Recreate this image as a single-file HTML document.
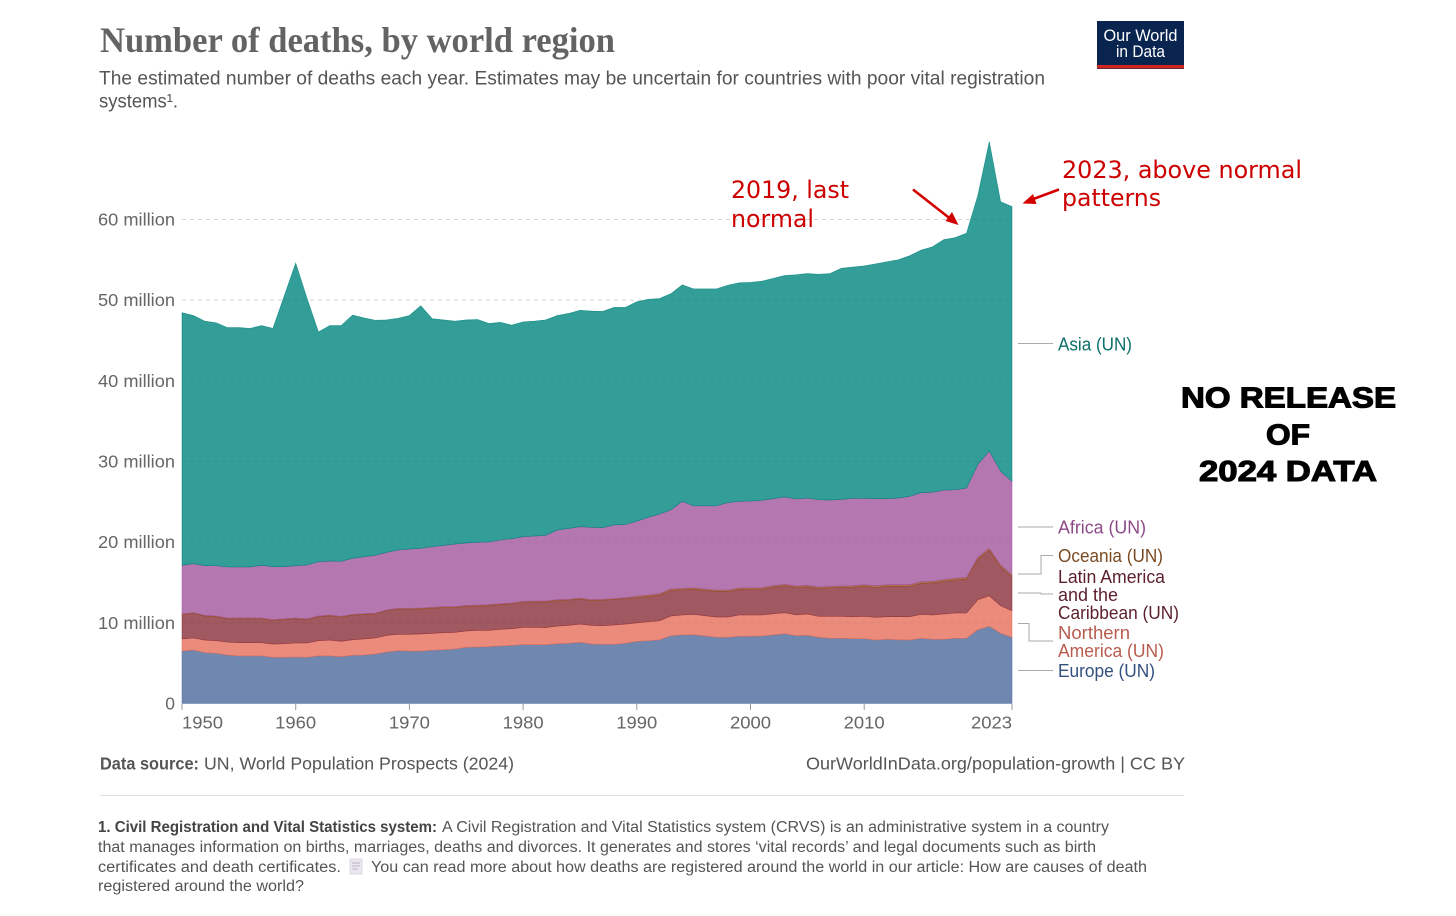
<!DOCTYPE html>
<html lang="en">
<head>
<meta charset="utf-8">
<title>Number of deaths, by world region</title>
<style>
html,body{margin:0;padding:0;background:#fff;}
svg{display:block;}
text{font-family:"Liberation Sans",sans-serif;}
.t{fill:#555;}
.leg{font-size:18px;}
.fn{font-size:15.5px;fill:#555;}
.anno{font-family:"DejaVu Sans",sans-serif;font-size:24px;fill:#cc0000;}
.note{font-size:29px;font-weight:bold;fill:#000;stroke:#000;stroke-width:1.1;text-anchor:middle;}
.conn{fill:none;stroke:#aaa;stroke-width:1;}
</style>
</head>
<body>
<svg id="chart" width="1456" height="916" viewBox="0 0 1456 916" xmlns="http://www.w3.org/2000/svg">
  <text x="100" y="52" textLength="515" lengthAdjust="spacingAndGlyphs" style="font-family:'Liberation Serif',serif;font-size:36px;font-weight:bold;fill:#636363;">Number of deaths, by world region</text>
  <text class="t" x="99" y="84.5" font-size="19" textLength="946" lengthAdjust="spacingAndGlyphs">The estimated number of deaths each year. Estimates may be uncertain for countries with poor vital registration</text>
  <text class="t" x="99" y="107.5" font-size="19" textLength="79" lengthAdjust="spacingAndGlyphs">systems¹.</text>

  <g>
    <rect x="1097" y="21" width="87" height="48" fill="#0a2450"/>
    <rect x="1097" y="65" width="87" height="3.5" fill="#ce261e"/>
    <text x="1140.5" y="41" font-size="16.5" fill="#fff" text-anchor="middle" textLength="74" lengthAdjust="spacingAndGlyphs">Our World</text>
    <text x="1140.5" y="57" font-size="16.5" fill="#fff" text-anchor="middle" textLength="49" lengthAdjust="spacingAndGlyphs">in Data</text>
  </g>

  <g id="grid"></g>
  <g id="areas"></g>
  <g id="xaxis"></g>
  <g id="yaxis"></g>

  <g>
    <path class="conn" d="M1018 343.5H1053"/>
    <path class="conn" d="M1018 527H1053"/>
    <path class="conn" d="M1018 574H1041V555.5H1053"/>
    <path class="conn" d="M1018 593H1041V594H1053"/>
    <path class="conn" d="M1018 623.5H1029V641H1053"/>
    <path class="conn" d="M1018 670.5H1053"/>
    <text class="leg" x="1058" y="350.5" fill="#0b6f6a" textLength="74" lengthAdjust="spacingAndGlyphs">Asia (UN)</text>
    <text class="leg" x="1058" y="533.5" fill="#8c4a87" textLength="88" lengthAdjust="spacingAndGlyphs">Africa (UN)</text>
    <text class="leg" x="1058" y="562" fill="#7a4a22" textLength="105" lengthAdjust="spacingAndGlyphs">Oceania (UN)</text>
    <g fill="#5c1f2b">
      <text class="leg" x="1058" y="583" textLength="107" lengthAdjust="spacingAndGlyphs">Latin America</text>
      <text class="leg" x="1058" y="601" textLength="60" lengthAdjust="spacingAndGlyphs">and the</text>
      <text class="leg" x="1058" y="619" textLength="121" lengthAdjust="spacingAndGlyphs">Caribbean (UN)</text>
    </g>
    <g fill="#b85c4d">
      <text class="leg" x="1058" y="639" textLength="72" lengthAdjust="spacingAndGlyphs">Northern</text>
      <text class="leg" x="1058" y="657" textLength="106" lengthAdjust="spacingAndGlyphs">America (UN)</text>
    </g>
    <text class="leg" x="1058" y="677" fill="#33507f" textLength="97" lengthAdjust="spacingAndGlyphs">Europe (UN)</text>
  </g>

  <g>
    <text class="anno" x="731" y="198" textLength="118" lengthAdjust="spacingAndGlyphs">2019, last</text>
    <text class="anno" x="731" y="227" textLength="83" lengthAdjust="spacingAndGlyphs">normal</text>
    <path d="M913 189.5L950 218.5" stroke="#d40000" stroke-width="2.6" fill="none"/>
    <path d="M958.5 225L945.5 221L952 212Z" fill="#d40000"/>
  </g>
  <g>
    <text class="anno" x="1062" y="178" textLength="240" lengthAdjust="spacingAndGlyphs">2023, above normal</text>
    <text class="anno" x="1062" y="206" textLength="99" lengthAdjust="spacingAndGlyphs">patterns</text>
    <path d="M1059 189.5L1032 199.5" stroke="#d40000" stroke-width="2.6" fill="none"/>
    <path d="M1022.5 203.5L1033 194L1036.5 204Z" fill="#d40000"/>
  </g>

  <g>
    <text class="note" x="1288.5" y="407.5" textLength="215" lengthAdjust="spacingAndGlyphs">NO RELEASE</text>
    <text class="note" x="1288" y="444.5" textLength="44" lengthAdjust="spacingAndGlyphs">OF</text>
    <text class="note" x="1288" y="481" textLength="178" lengthAdjust="spacingAndGlyphs">2024 DATA</text>
  </g>

  <text x="100" y="769.5" font-size="17.5" font-weight="bold" fill="#555" textLength="99" lengthAdjust="spacingAndGlyphs">Data source:</text>
  <text class="t" x="204" y="769.5" font-size="17.5" textLength="310" lengthAdjust="spacingAndGlyphs">UN, World Population Prospects (2024)</text>
  <text class="t" x="806" y="769.5" font-size="17.5" textLength="379" lengthAdjust="spacingAndGlyphs">OurWorldInData.org/population-growth | CC BY</text>
  <line x1="100" x2="1184" y1="795.5" y2="795.5" stroke="#dddddd" stroke-width="1"/>

  <g>
    <text class="fn" x="98" y="832" font-weight="bold" textLength="339" lengthAdjust="spacingAndGlyphs" style="fill:#444;">1. Civil Registration and Vital Statistics system:</text>
    <text class="fn" x="442" y="832" textLength="667" lengthAdjust="spacingAndGlyphs">A Civil Registration and Vital Statistics system (CRVS) is an administrative system in a country</text>
    <text class="fn" x="98" y="852" textLength="998" lengthAdjust="spacingAndGlyphs">that manages information on births, marriages, deaths and divorces. It generates and stores ‘vital records’ and legal documents such as birth</text>
    <text class="fn" x="98" y="872" textLength="243" lengthAdjust="spacingAndGlyphs">certificates and death certificates.</text>
    <g>
      <rect x="350" y="859" width="12" height="15" fill="#ece6f1" stroke="#d9d0e2" stroke-width="0.8"/>
      <path d="M352 863H360M352 866H360M352 869H358" stroke="#a9a0b4" stroke-width="0.8" fill="none"/>
    </g>
    <text class="fn" x="371" y="872" textLength="776" lengthAdjust="spacingAndGlyphs">You can read more about how deaths are registered around the world in our article: How are causes of death</text>
    <text class="fn" x="98" y="891" textLength="206" lengthAdjust="spacingAndGlyphs">registered around the world?</text>
  </g>
</svg>
<script>
const firstYear = 1950;
const lastYear = 2023;
const xTickYears = [1950, 1960, 1970, 1980, 1990, 2000, 2010, 2023];
const yTickValues = [0, 10, 20, 30, 40, 50, 60];
const yTickLabels = ['0', '10 million', '20 million', '30 million', '40 million', '50 million', '60 million'];

const europe = [6.5,6.63,6.3,6.22,6.0,5.9,5.9,5.9,5.72,5.72,
  5.76,5.72,5.9,5.9,5.8,5.97,6.0,6.13,6.38,6.55,
  6.5,6.5,6.6,6.67,6.75,6.96,7.0,7.05,7.13,7.2,
  7.29,7.29,7.29,7.4,7.46,7.58,7.37,7.33,7.33,7.46,
  7.7,7.78,7.9,8.4,8.5,8.53,8.37,8.2,8.2,8.33,
  8.33,8.37,8.5,8.65,8.4,8.45,8.2,8.08,8.08,8.03,
  8.03,7.87,7.96,7.9,7.87,8.08,7.96,7.96,8.08,8.08,
  9.15,9.57,8.7,8.2];
const northernAmerica = [1.5,1.49,1.57,1.57,1.62,1.64,1.64,1.64,1.65,1.69,
  1.74,1.78,1.89,1.97,1.91,1.94,2.0,1.99,2.07,2.03,
  2.08,2.12,2.1,2.11,2.07,2.03,2.07,2.02,2.07,2.07,
  2.16,2.16,2.12,2.2,2.23,2.27,2.32,2.32,2.4,2.39,
  2.3,2.36,2.37,2.45,2.47,2.52,2.51,2.52,2.52,2.64,
  2.64,2.6,2.63,2.61,2.6,2.65,2.6,2.72,2.72,2.73,
  2.77,2.81,2.8,2.86,2.89,2.97,3.01,3.14,3.14,3.14,
  3.72,3.79,3.42,3.3];
const latinAmerica = [3.0,3.04,2.96,2.96,2.88,2.96,2.96,2.96,2.92,2.99,
  3.0,2.9,2.96,3.0,2.99,3.04,3.03,2.98,3.05,3.12,
  3.1,3.1,3.1,3.1,3.06,3.06,3.01,3.06,3.05,3.07,
  3.1,3.13,3.17,3.15,3.11,3.11,3.06,3.15,3.15,3.15,
  3.11,3.13,3.16,3.17,3.13,3.12,3.14,3.17,3.17,3.17,
  3.2,3.2,3.29,3.33,3.39,3.37,3.46,3.55,3.59,3.66,
  3.71,3.7,3.75,3.75,3.75,3.83,3.96,4.03,4.08,4.2,
  5.0,5.63,4.8,4.18];
const oceania = [0.1,0.1,0.1,0.1,0.1,0.1,0.1,0.1,0.1,0.1,
  0.1,0.1,0.1,0.1,0.1,0.1,0.1,0.1,0.1,0.1,
  0.12,0.12,0.12,0.12,0.12,0.12,0.12,0.12,0.12,0.12,
  0.12,0.12,0.12,0.12,0.12,0.12,0.12,0.12,0.12,0.12,
  0.18,0.18,0.18,0.18,0.18,0.18,0.18,0.18,0.18,0.18,
  0.18,0.18,0.18,0.18,0.18,0.18,0.18,0.18,0.18,0.18,
  0.22,0.22,0.22,0.22,0.22,0.22,0.22,0.22,0.22,0.22,
  0.25,0.25,0.25,0.25];
const africa = [6.03,6.07,6.15,6.23,6.32,6.32,6.32,6.53,6.57,6.46,
  6.48,6.67,6.73,6.69,6.82,6.95,7.07,7.17,7.14,7.23,
  7.35,7.4,7.52,7.6,7.77,7.73,7.78,7.77,7.9,7.97,
  8.01,8.06,8.15,8.63,8.78,8.84,8.97,8.88,9.13,9.08,
  9.31,9.63,9.89,9.8,10.78,10.15,10.3,10.43,10.83,10.74,
  10.75,10.83,10.79,10.83,10.78,10.82,10.82,10.69,10.73,10.83,
  10.7,10.79,10.66,10.74,10.95,11.03,11.05,11.11,10.98,11.06,
  11.53,12.06,11.61,11.61];
const asia = [31.32,30.77,30.32,30.12,29.68,29.68,29.58,29.72,29.54,33.59,
  37.52,33.03,28.47,29.19,29.23,30.15,29.6,29.13,28.81,28.72,
  28.95,30.06,28.26,27.95,27.63,27.65,27.62,27.08,26.98,26.47,
  26.62,26.64,26.7,26.6,26.65,26.83,26.81,26.8,26.97,26.9,
  27.2,27.02,26.7,26.8,26.84,26.9,26.9,26.9,26.95,27.09,
  27.1,27.17,27.31,27.45,27.8,27.83,27.94,28.08,28.65,28.67,
  28.82,29.11,29.36,29.53,29.82,30.07,30.4,31.04,31.25,31.6,
  33.35,38.35,33.42,34.06];

const seriesOrder = ['europe', 'northern-america', 'latin-america', 'oceania', 'africa', 'asia'];
const seriesValues = [europe, northernAmerica, latinAmerica, oceania, africa, asia];
const seriesColors = ['#4C6A9C', '#E56E5A', '#883039', '#9A5129', '#A2559C', '#00847E'];

const NS = 'http://www.w3.org/2000/svg';
const plotLeft = 182, plotRight = 1012, plotBottom = 703.5, pxPerMillion = 8.0667;
function xScale(year) { return plotLeft + (year - firstYear) * (plotRight - plotLeft) / (lastYear - firstYear); }
function yScale(value) { return plotBottom - value * pxPerMillion; }

const gridGroup = document.getElementById('grid');
const yGroup = document.getElementById('yaxis');
yTickValues.forEach(function (v, i) {
  const label = document.createElementNS(NS, 'text');
  
  
  label.setAttribute('x', 175);
  label.setAttribute('y', yScale(v) + 6);
  label.setAttribute('text-anchor', 'end');
  label.setAttribute('font-size', '17.5');
  label.setAttribute('fill', '#666');
  if (v !== 0) {
    label.setAttribute('textLength', 77);
    label.setAttribute('lengthAdjust', 'spacingAndGlyphs');
  }
  label.textContent = yTickLabels[i];
  yGroup.appendChild(label);
  if (v === 0) return;
  const grid = document.createElementNS(NS, 'line');
  
  
  grid.setAttribute('x1', plotLeft);
  grid.setAttribute('x2', plotRight);
  grid.setAttribute('y1', yScale(v));
  grid.setAttribute('y2', yScale(v));
  grid.setAttribute('stroke', '#d4d4d4');
  grid.setAttribute('stroke-dasharray', '4,4');
  gridGroup.appendChild(grid);
});

const areasGroup = document.getElementById('areas');
const baseline = europe.map(function () { return 0; });
seriesValues.forEach(function (values, s) {
  const tops = values.map(function (v, i) { return baseline[i] + v; });
  let d = '';
  tops.forEach(function (t, i) {
    d += (i === 0 ? 'M' : 'L') + xScale(firstYear + i).toFixed(2) + ' ' + yScale(t).toFixed(2);
  });
  for (let i = tops.length - 1; i >= 0; i--) {
    d += 'L' + xScale(firstYear + i).toFixed(2) + ' ' + yScale(baseline[i]).toFixed(2);
  }
  d += 'Z';
  const area = document.createElementNS(NS, 'path');
  
  
  area.setAttribute('d', d);
  area.setAttribute('fill', seriesColors[s]);
  area.setAttribute('fill-opacity', '0.8');
  area.setAttribute('stroke', seriesColors[s]);
  area.setAttribute('stroke-width', '0.6');
  area.setAttribute('stroke-opacity', '0.8');
  areasGroup.appendChild(area);
  tops.forEach(function (t, i) { baseline[i] = t; });
});

const xGroup = document.getElementById('xaxis');
xTickYears.forEach(function (year, i) {
  const tick = document.createElementNS(NS, 'line');
  
  
  tick.setAttribute('x1', xScale(year));
  tick.setAttribute('x2', xScale(year));
  tick.setAttribute('y1', 704);
  tick.setAttribute('y2', 710);
  tick.setAttribute('stroke', '#999');
  xGroup.appendChild(tick);
  const label = document.createElementNS(NS, 'text');
  
  
  const anchor = i === 0 ? 'start' : (i === xTickYears.length - 1 ? 'end' : 'middle');
  label.setAttribute('x', xScale(year));
  label.setAttribute('y', 728.5);
  label.setAttribute('text-anchor', anchor);
  label.setAttribute('font-size', '17.5');
  label.setAttribute('fill', '#666');
  label.setAttribute('textLength', 41);
  label.setAttribute('lengthAdjust', 'spacingAndGlyphs');
  label.textContent = String(year);
  xGroup.appendChild(label);
});
</script>
</body>
</html>
